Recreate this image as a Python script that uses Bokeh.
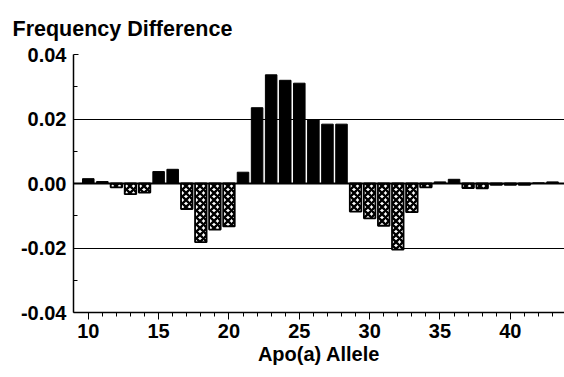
from bokeh.plotting import figure
from bokeh.models import FixedTicker, NumeralTickFormatter, Span, Range1d
from bokeh.embed import file_html
from bokeh.resources import INLINE

alleles = list(range(10, 44))
freq_diff = [0.0015, 0.0006, -0.0012, -0.0033, -0.0028, 0.0037, 0.0044,
             -0.0079, -0.0182, -0.0143, -0.0133, 0.0035, 0.0235, 0.0337,
             0.0320, 0.0311, 0.0198, 0.0184, 0.0184, -0.0087, -0.0108,
             -0.0131, -0.0205, -0.0089, -0.0012, 0.0005, 0.0013, -0.0014,
             -0.0015, -0.0004, -0.0004, -0.0004, 0.0002, 0.0005]
x_ticks = [10, 15, 20, 25, 30, 35, 40]
y_ticks = [-0.04, -0.02, 0.0, 0.02, 0.04]
title_text = "Frequency Difference"
x_label = "Apo(a) Allele"

FONT = "Liberation Sans"

p = figure(width=564, height=377, output_backend="svg", toolbar_location=None,
           x_range=Range1d(8.95, 43.85), y_range=Range1d(-0.04, 0.04),
           min_border_left=73, min_border_right=0, min_border_top=54,
           min_border_bottom=65)
p.outline_line_color = None
p.background_fill_color = "white"
p.border_fill_color = "white"

pos_x = [a for a, v in zip(alleles, freq_diff) if v >= 0]
pos_v = [v for v in freq_diff if v >= 0]
neg_x = [a for a, v in zip(alleles, freq_diff) if v < 0]
neg_v = [v for v in freq_diff if v < 0]

p.vbar(x=pos_x, top=pos_v, bottom=0, width=0.82, fill_color="black",
       line_color="black", line_width=1)
p.vbar(x=neg_x, top=0, bottom=neg_v, width=0.82, fill_color="white",
       line_color="black", line_width=1.8, hatch_pattern="diagonal_cross",
       hatch_color="black", hatch_scale=7, hatch_weight=2.4)

p.add_layout(Span(location=0, dimension="width", line_color="black", line_width=2))

# title
p.title.text = title_text
p.title.align = "left"
p.title.offset = -61
p.title.standoff = 28
p.title.text_font = FONT
p.title.text_font_style = "bold"
p.title.text_font_size = "21.5px"
p.title.text_color = "black"

# axes
p.xaxis.ticker = FixedTicker(ticks=x_ticks, minor_ticks=alleles)
p.yaxis.ticker = FixedTicker(ticks=y_ticks, minor_ticks=[-0.03, -0.01, 0.01, 0.03])
p.yaxis.formatter = NumeralTickFormatter(format="0.00")
for ax in (p.xaxis, p.yaxis):
    ax.axis_line_color = "black"
    ax.axis_line_width = 1.5
    ax.major_tick_line_color = "black"
    ax.minor_tick_line_color = "black"
    ax.major_label_text_font = FONT
    ax.major_label_text_font_style = "bold"
    ax.major_label_text_font_size = "20px"
    ax.major_label_text_color = "black"
p.xaxis.major_tick_in = 0
p.xaxis.major_tick_out = 7
p.xaxis.minor_tick_in = 0
p.xaxis.minor_tick_out = 4
p.xaxis.major_label_standoff = 4
p.xaxis.axis_label = x_label
p.xaxis.axis_label_text_font = FONT
p.xaxis.axis_label_text_font_style = "bold"
p.xaxis.axis_label_text_font_size = "20px"
p.xaxis.axis_label_text_color = "black"
p.xaxis.axis_label_standoff = 2
p.yaxis.major_tick_in = 5
p.yaxis.major_tick_out = 0
p.yaxis.minor_tick_in = 4
p.yaxis.minor_tick_out = 0
p.yaxis.major_label_standoff = 7

p.xgrid.visible = False
p.ygrid.ticker = FixedTicker(ticks=[-0.02, 0.02, 0.04])
p.ygrid.grid_line_color = "black"
p.ygrid.grid_line_width = 1

open("out.html", "w").write(file_html(p, INLINE))
